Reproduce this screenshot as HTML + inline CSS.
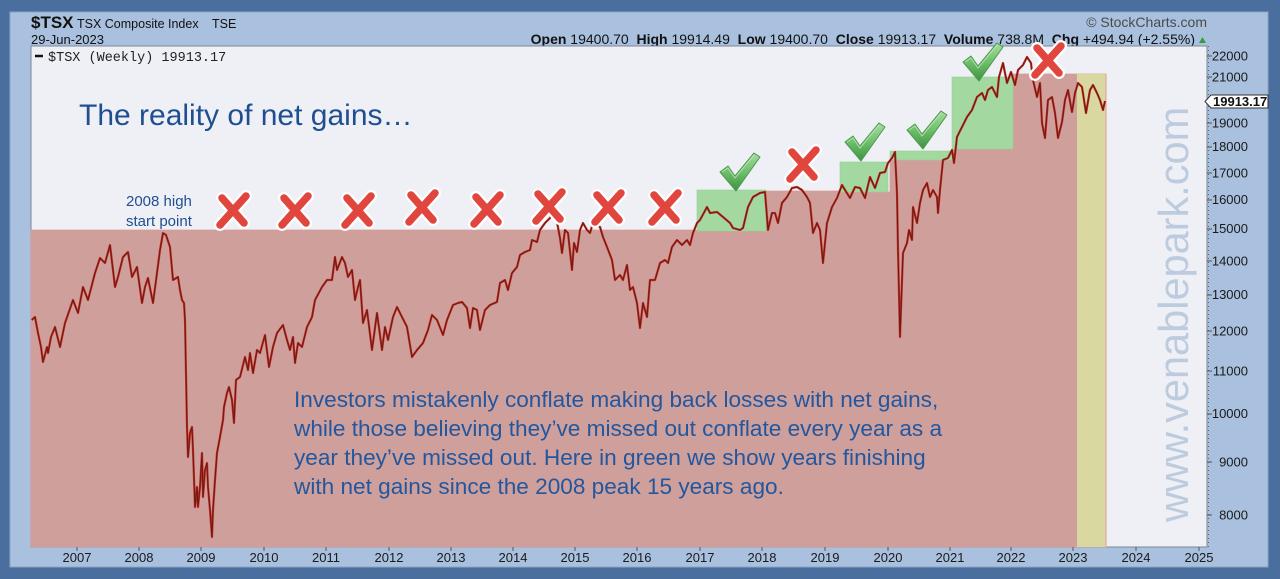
<!DOCTYPE html>
<html><head><meta charset="utf-8"><style>
html,body{margin:0;padding:0;width:1280px;height:579px;overflow:hidden;background:#4a6e9e;}
svg{display:block;}
</style></head><body>
<svg width="1280" height="579" viewBox="0 0 1280 579" xmlns="http://www.w3.org/2000/svg" font-family="'Liberation Sans', Arial, sans-serif">
<defs>
<linearGradient id="cg" x1="0" y1="0" x2="0" y2="1">
<stop offset="0" stop-color="#a6dca2"/><stop offset="0.5" stop-color="#6fbf6c"/><stop offset="1" stop-color="#3d9240"/>
</linearGradient>
<g id="chk"><path d="M0,19 L8,13 L15,23 L34,0 L40,4 L16,38 Z" fill="url(#cg)" stroke="#4c9c4a" stroke-width="1" stroke-linejoin="round"/>
<path d="M2,19 L8,15 L15,25 L34,2" fill="none" stroke="#c9eec6" stroke-width="1" opacity="0.7"/></g>
<g id="xm"><g stroke="#ffffff" stroke-width="12" stroke-linecap="round"><line x1="-11" y1="-13" x2="11" y2="12"/><line x1="13" y1="-15" x2="-13" y2="14"/></g>
<g stroke="#e0463d" stroke-width="7.5" stroke-linecap="round"><line x1="-11" y1="-13" x2="11" y2="12"/><line x1="13" y1="-15" x2="-13" y2="14"/></g></g>
</defs>
<!-- panel -->
<rect x="10" y="12" width="1258" height="555" fill="#a9c1de" stroke="#8ea5c2" stroke-width="1"/>
<!-- header -->
<text x="31" y="28" font-size="17" font-weight="bold" fill="#111">$TSX</text>
<text x="77" y="28" font-size="12.5" fill="#111">TSX Composite Index</text>
<text x="212" y="28" font-size="12.5" fill="#111">TSE</text>
<text x="31" y="44" font-size="13" fill="#111">29-Jun-2023</text>
<text x="1207" y="27" font-size="14" fill="#4a4a4a" text-anchor="end">© StockCharts.com</text>
<text x="1195" y="44" font-size="14" fill="#111" text-anchor="end" style="white-space:pre"><tspan font-weight="bold">Open</tspan> 19400.70  <tspan font-weight="bold">High</tspan> 19914.49  <tspan font-weight="bold">Low</tspan> 19400.70  <tspan font-weight="bold">Close</tspan> 19913.17  <tspan font-weight="bold">Volume</tspan> 738.8M  <tspan font-weight="bold">Chg</tspan> +494.94 (+2.55%)</text>
<polygon points="1199,43 1206,43 1202.5,37" fill="#3a9a3a"/>
<!-- plot -->
<rect x="31" y="46" width="1176" height="501" fill="#eff0f6" stroke="#7d8797" stroke-width="1"/>
<!-- red stepped fill -->
<path d="M31,547 L31,230 L766,230 L766,191 L840,191 L840,192 L890,192 L890,160 L952,160 L952,149 L1013,149 L1013,74 L1106,74 L1106,547 Z" fill="#cf9f9b" stroke="#dc9a96" stroke-width="0.8"/>
<!-- green boxes -->
<rect x="697" y="190" width="69" height="41" fill="#a3d8a0" stroke="#95d092" stroke-width="0.6"/>
<rect x="840" y="162" width="48" height="30" fill="#a3d8a0" stroke="#95d092" stroke-width="0.6"/>
<rect x="890" y="151" width="62" height="9" fill="#a3d8a0" stroke="#95d092" stroke-width="0.6"/>
<rect x="952" y="77" width="61" height="72" fill="#a3d8a0" stroke="#95d092" stroke-width="0.6"/>
<!-- yellow -->
<rect x="1077" y="74" width="29" height="473" fill="#d8d8a0"/>
<line x1="1106" y1="74" x2="1106" y2="547" stroke="#e49a96" stroke-width="1"/>
<!-- watermark -->
<text transform="translate(1188,522) rotate(-90)" font-size="41.5" fill="#bccbde">www.venablepark.com</text>
<!-- price line -->
<g fill="none" stroke-linejoin="round">
<polyline stroke="#cc2e24" stroke-width="2.2" points="31.7,320 35,317 38,333 41,347 43,362 47,347 48,353 51,337 55,327 60,347 65,323 73,300 78,313 83,287 88,300 95,273 100,258 105,263 110,245 115,287 118,277 123,257 128,252 132,277 137,267 142,303 145,287 148,278 153,303 157,273 160,250 163,233 166,235 170,247 173,280 178,277 180,290 182,300 184,303 185,320 187,427 188,457 190,433 192,427 193,450 195,507 197,487 198,507 200,487 202,453 203,497 205,470 207,463 208,487 210,510 212,537 213,510 215,480 217,453 220,437 223,420 224,407 227,393 229,387 232,400 234,423 236,380 240,377 245,357 248,370 250,353 253,373 257,350 260,353 265,335 269,367 273,347 277,333 283,325 287,340 290,350 293,337 295,363 298,343 302,347 307,327 312,317 315,300 322,287 327,280 332,280 335,257 337,270 342,257 345,263 348,277 352,270 355,300 358,287 360,280 363,323 367,310 372,350 377,313 382,350 385,327 388,340 393,317 397,307 400,313 407,327 412,357 417,350 423,343 428,330 432,315 437,320 443,335 447,320 453,305 458,303 462,302 467,308 470,328 473,308 477,310 480,330 485,310 490,305 497,302 500,283 505,280 508,290 512,273 517,267 520,255 525,252 530,250 532,240 537,242 540,230 545,223 550,218 553,213 557,222 560,238 562,253 565,230 568,233 572,270 574,243 577,252 580,230 583,223 587,230 590,233 593,223 600,227 603,237 607,247 612,260 615,280 620,275 623,280 627,265 630,290 633,287 637,303 640,328 643,303 647,317 650,280 655,280 660,263 665,260 668,263 672,247 677,240 682,245 687,240 690,245 693,233 697,223 700,220 707,207 710,213 717,212 723,217 730,223 733,228 740,230 743,228 748,207 753,197 760,193 765,192 768,230 772,213 775,213 778,223 782,203 787,197 792,188 797,187 802,190 807,197 810,203 813,233 817,223 820,230 823,263 827,223 832,207 837,198 842,185 845,190 850,198 855,187 860,188 865,198 870,177 875,188 880,173 885,172 888,163 892,158 895,152 897,193 898,250 900,337 903,253 907,243 909,230 912,240 913,207 917,223 920,203 923,190 927,183 930,197 933,190 937,197 938,213 940,190 943,160 948,158 952,150 954,163 957,137 962,127 967,117 972,110 977,97 982,93 985,100 988,90 992,87 997,97 999,77 1003,63 1007,83 1011,72 1015,85 1018,70 1023,65 1027,57 1031,63 1033,80 1037,97 1040,83 1042,123 1045,138 1048,100 1052,97 1055,113 1058,138 1062,122 1065,100 1068,90 1072,112 1075,93 1078,83 1082,87 1086,113 1090,90 1093,85 1097,93 1100,100 1103,110 1105,101"/>
<polyline stroke="#2a0f0c" stroke-width="1.1" opacity="0.6" points="31.7,320 35,317 38,333 41,347 43,362 47,347 48,353 51,337 55,327 60,347 65,323 73,300 78,313 83,287 88,300 95,273 100,258 105,263 110,245 115,287 118,277 123,257 128,252 132,277 137,267 142,303 145,287 148,278 153,303 157,273 160,250 163,233 166,235 170,247 173,280 178,277 180,290 182,300 184,303 185,320 187,427 188,457 190,433 192,427 193,450 195,507 197,487 198,507 200,487 202,453 203,497 205,470 207,463 208,487 210,510 212,537 213,510 215,480 217,453 220,437 223,420 224,407 227,393 229,387 232,400 234,423 236,380 240,377 245,357 248,370 250,353 253,373 257,350 260,353 265,335 269,367 273,347 277,333 283,325 287,340 290,350 293,337 295,363 298,343 302,347 307,327 312,317 315,300 322,287 327,280 332,280 335,257 337,270 342,257 345,263 348,277 352,270 355,300 358,287 360,280 363,323 367,310 372,350 377,313 382,350 385,327 388,340 393,317 397,307 400,313 407,327 412,357 417,350 423,343 428,330 432,315 437,320 443,335 447,320 453,305 458,303 462,302 467,308 470,328 473,308 477,310 480,330 485,310 490,305 497,302 500,283 505,280 508,290 512,273 517,267 520,255 525,252 530,250 532,240 537,242 540,230 545,223 550,218 553,213 557,222 560,238 562,253 565,230 568,233 572,270 574,243 577,252 580,230 583,223 587,230 590,233 593,223 600,227 603,237 607,247 612,260 615,280 620,275 623,280 627,265 630,290 633,287 637,303 640,328 643,303 647,317 650,280 655,280 660,263 665,260 668,263 672,247 677,240 682,245 687,240 690,245 693,233 697,223 700,220 707,207 710,213 717,212 723,217 730,223 733,228 740,230 743,228 748,207 753,197 760,193 765,192 768,230 772,213 775,213 778,223 782,203 787,197 792,188 797,187 802,190 807,197 810,203 813,233 817,223 820,230 823,263 827,223 832,207 837,198 842,185 845,190 850,198 855,187 860,188 865,198 870,177 875,188 880,173 885,172 888,163 892,158 895,152 897,193 898,250 900,337 903,253 907,243 909,230 912,240 913,207 917,223 920,203 923,190 927,183 930,197 933,190 937,197 938,213 940,190 943,160 948,158 952,150 954,163 957,137 962,127 967,117 972,110 977,97 982,93 985,100 988,90 992,87 997,97 999,77 1003,63 1007,83 1011,72 1015,85 1018,70 1023,65 1027,57 1031,63 1033,80 1037,97 1040,83 1042,123 1045,138 1048,100 1052,97 1055,113 1058,138 1062,122 1065,100 1068,90 1072,112 1075,93 1078,83 1082,87 1086,113 1090,90 1093,85 1097,93 1100,100 1103,110 1105,101"/>
</g>
<!-- right axis -->
<line x1="1208.5" y1="46" x2="1208.5" y2="547" stroke="#666" stroke-width="1" stroke-dasharray="1,3"/>
<g stroke="#555" stroke-width="1">
<line x1="1207" y1="56" x2="1212" y2="56"/><line x1="1207" y1="77" x2="1212" y2="77"/><line x1="1207" y1="100" x2="1212" y2="100"/><line x1="1207" y1="123" x2="1212" y2="123"/><line x1="1207" y1="147" x2="1212" y2="147"/><line x1="1207" y1="173" x2="1212" y2="173"/><line x1="1207" y1="200" x2="1212" y2="200"/><line x1="1207" y1="229" x2="1212" y2="229"/><line x1="1207" y1="261" x2="1212" y2="261"/><line x1="1207" y1="295" x2="1212" y2="295"/><line x1="1207" y1="331" x2="1212" y2="331"/><line x1="1207" y1="371" x2="1212" y2="371"/><line x1="1207" y1="414" x2="1212" y2="414"/><line x1="1207" y1="462" x2="1212" y2="462"/><line x1="1207" y1="515" x2="1212" y2="515"/>
</g>
<g font-size="13" fill="#1a1a1a" text-anchor="end">
<text x="1248" y="60.5">22000</text><text x="1248" y="81.5">21000</text><text x="1248" y="127.5">19000</text><text x="1248" y="151">18000</text><text x="1248" y="177.5">17000</text><text x="1248" y="204">16000</text><text x="1248" y="233">15000</text><text x="1248" y="265.5">14000</text><text x="1248" y="299">13000</text><text x="1248" y="335.5">12000</text><text x="1248" y="375.5">11000</text><text x="1248" y="418">10000</text><text x="1248" y="466.5">9000</text><text x="1248" y="519.5">8000</text>
</g>
<path d="M1205,101.5 L1211,95 L1268,95 L1268,108 L1211,108 Z" fill="#ffffff" stroke="#333" stroke-width="1"/>
<text x="1213" y="106" font-size="13" font-weight="bold" fill="#111">19913.17</text>
<!-- x axis -->
<g stroke="#555" stroke-width="1">
<line x1="77" y1="547" x2="77" y2="551"/><line x1="139" y1="547" x2="139" y2="551"/><line x1="201" y1="547" x2="201" y2="551"/><line x1="264" y1="547" x2="264" y2="551"/><line x1="326" y1="547" x2="326" y2="551"/><line x1="389" y1="547" x2="389" y2="551"/><line x1="451" y1="547" x2="451" y2="551"/><line x1="513" y1="547" x2="513" y2="551"/><line x1="575" y1="547" x2="575" y2="551"/><line x1="637" y1="547" x2="637" y2="551"/><line x1="700" y1="547" x2="700" y2="551"/><line x1="762" y1="547" x2="762" y2="551"/><line x1="825" y1="547" x2="825" y2="551"/><line x1="888" y1="547" x2="888" y2="551"/><line x1="950" y1="547" x2="950" y2="551"/><line x1="1011" y1="547" x2="1011" y2="551"/><line x1="1073" y1="547" x2="1073" y2="551"/><line x1="1136" y1="547" x2="1136" y2="551"/><line x1="1199" y1="547" x2="1199" y2="551"/>
</g>
<g font-size="13" fill="#1a1a1a" text-anchor="middle">
<text x="77" y="562">2007</text><text x="139" y="562">2008</text><text x="201" y="562">2009</text><text x="264" y="562">2010</text><text x="326" y="562">2011</text><text x="389" y="562">2012</text><text x="451" y="562">2013</text><text x="513" y="562">2014</text><text x="575" y="562">2015</text><text x="637" y="562">2016</text><text x="700" y="562">2017</text><text x="762" y="562">2018</text><text x="825" y="562">2019</text><text x="888" y="562">2020</text><text x="950" y="562">2021</text><text x="1011" y="562">2022</text><text x="1073" y="562">2023</text><text x="1136" y="562">2024</text><text x="1199" y="562">2025</text>
</g>
<!-- legend -->
<line x1="35" y1="56" x2="43" y2="56" stroke="#111" stroke-width="2.5"/>
<text x="48" y="61" font-family="'Liberation Mono', monospace" font-size="13.5" fill="#222">$TSX (Weekly) 19913.17</text>
<!-- annotations -->
<text x="79" y="125" font-size="30" fill="#1f4f90">The reality of net gains…</text>
<text x="126" y="206" font-size="15" fill="#1f4f90">2008 high</text>
<text x="126" y="226" font-size="15" fill="#1f4f90">start point</text>
<g font-size="22.6" fill="#22579f">
<text x="294" y="407">Investors mistakenly conflate making back losses with net gains,</text>
<text x="294" y="436">while those believing they’ve missed out conflate every year as a</text>
<text x="294" y="465">year they’ve missed out. Here in green we show years finishing</text>
<text x="294" y="494">with net gains since the 2008 peak 15 years ago.</text>
</g>
<!-- X marks -->
<use href="#xm" x="233" y="211"/><use href="#xm" x="295" y="211"/><use href="#xm" x="358" y="211"/><use href="#xm" x="422" y="208"/><use href="#xm" x="487" y="210"/><use href="#xm" x="549" y="207"/><use href="#xm" x="608" y="208"/><use href="#xm" x="665" y="208"/><use href="#xm" x="803" y="165"/><use href="#xm" x="1048" y="61"/>
<!-- checkmarks -->
<use href="#chk" x="720" y="153"/><use href="#chk" x="845" y="123"/><use href="#chk" x="907" y="111"/><use href="#chk" x="963" y="43"/>
</svg>
</body></html>
